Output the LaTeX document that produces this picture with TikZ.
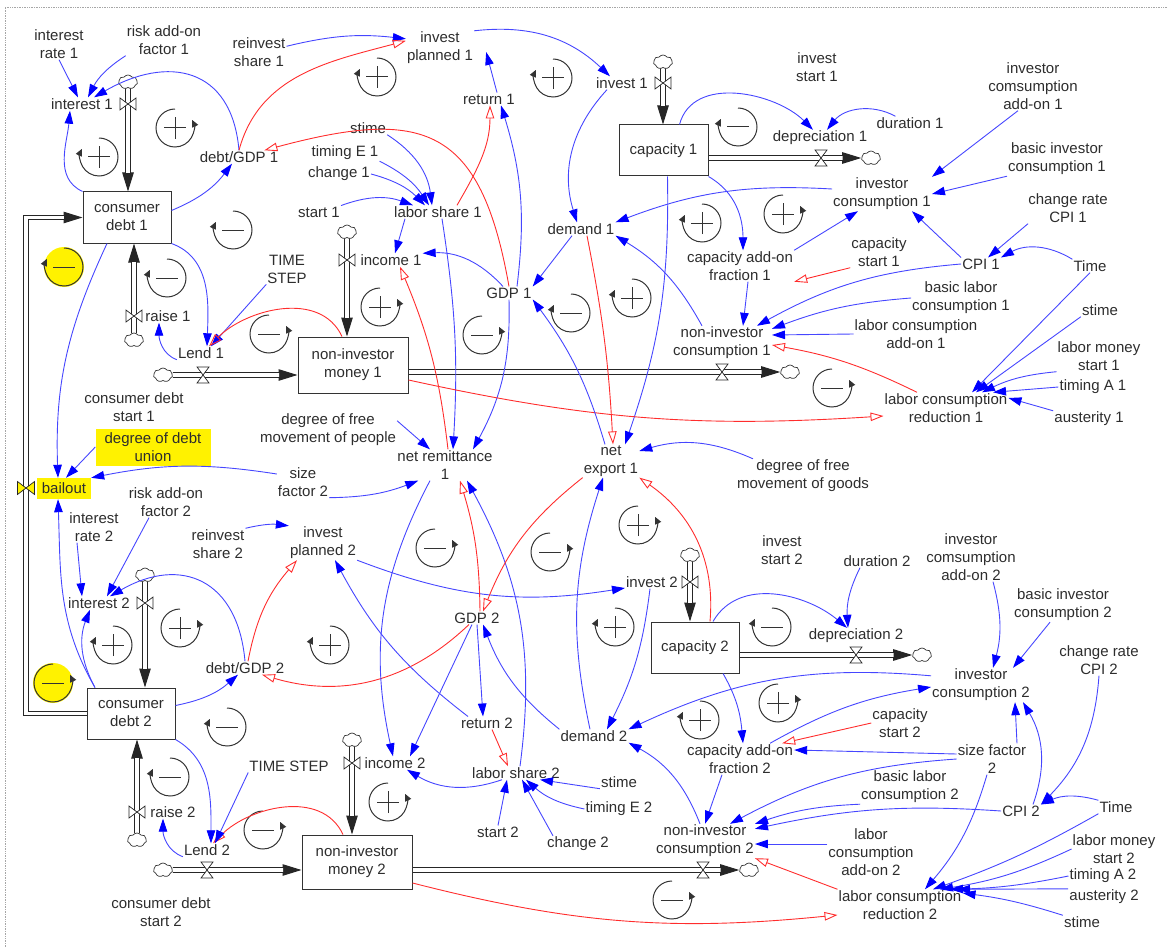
\documentclass[tikz,border=0pt]{standalone}
\usepackage{fontspec}
\setmainfont{Liberation Sans}
\usetikzlibrary{arrows.meta,shapes.symbols}
\pgfdeclarelayer{bg}
\pgfsetlayers{bg,main}
\definecolor{lnkblue}{RGB}{70,70,255}
\definecolor{tipblue}{RGB}{0,0,255}
\definecolor{lnkred}{RGB}{255,45,45}
\definecolor{txtc}{RGB}{45,45,45}
\newcommand\fsz{\fontsize{15}{18}\selectfont}
\newcommand\flowpipe[1]{\draw[pipehead] #1; \draw[pipebody] #1;}
\newcommand\lmark[3]{\pic at (#1) {#2}; \pic at (#1) {#3};}
\tikzset{
 lbl/.style={align=center, inner sep=1pt, text=txtc, font=\fsz},
 stock/.style={lbl, draw=black!80, line width=1pt, fill=white, inner sep=2pt},
 ybox/.style={lbl, fill=yellow, inner sep=0pt},
 cloudn/.style={cloud, cloud puffs=7, cloud puff arc=110, aspect=1.35, draw=black!80, fill=white, line width=0.7pt, minimum width=19pt, minimum height=14pt, inner sep=0pt},
 plink/.style={draw=lnkblue, line width=0.9pt, -{Triangle[length=13pt,width=8.5pt,color=tipblue]}},
 nlink/.style={draw=lnkred, line width=0.9pt, -{Triangle[open,length=13pt,width=8.5pt]}},
 pipehead/.style={draw=black!85, line width=1pt, -{Triangle[length=19pt,width=11.5pt]}},
 pipebody/.style={draw=black!85, line width=1.1pt, double=white, double distance=3.6pt, shorten >=18.5pt},
 loopline/.style={draw=black!80, line width=1pt},
 pics/lpR/.style={code={\draw[loopline,-{Triangle[length=7pt,width=6.5pt]}] (0,19) arc[start angle=90,end angle=385,radius=19];}},
 pics/lpL/.style={code={\draw[loopline,-{Triangle[length=7pt,width=6.5pt]}] (0,19) arc[start angle=90,end angle=-205,radius=19];}},
 pics/lsplus/.style={code={\draw[loopline] (-11,0)--(11,0) (0,-11)--(0,11);}},
 pics/lsminus/.style={code={\draw[loopline] (-11,0)--(11,0);}},
 pics/valveV/.style={code={\draw[draw=black!85,fill=white,line width=0.7pt] (-8,6)--(-8,-6)--(8,6)--(8,-6)--cycle;}},
 pics/valveH/.style={code={\draw[draw=black!85,fill=white,line width=0.7pt] (-6,8)--(6,8)--(-6,-8)--(6,-8)--cycle;}},
 pics/valveY/.style={code={\draw[draw=black!85,fill=yellow,line width=0.7pt] (-8.5,6.5)--(-8.5,-6.5)--(8.5,6.5)--(8.5,-6.5)--cycle;}},
}
\begin{document}
\begin{tikzpicture}[x=1pt,y=1pt]
\useasboundingbox (0,0) rectangle (1168,-947);
\draw[gray!70, line width=0.7pt, densely dotted] (5,-947) -- (5,-7) -- (1168,-7);

% ---------- stocks ----------
\node[stock, minimum width=88pt, minimum height=51pt] (cd1) at (127,-217.5) {consumer\\debt 1};
\node[stock, minimum width=88pt, minimum height=51pt] (cd2) at (131,-713.5) {consumer\\debt 2};
\node[stock, minimum width=110pt, minimum height=56pt] (nim1) at (353,-365) {non-investor\\money 1};
\node[stock, minimum width=110pt, minimum height=54pt] (nim2) at (357,-862) {non-investor\\money 2};
\node[stock, minimum width=89pt, minimum height=51pt] (cap1) at (663.5,-150.5) {capacity 1};
\node[stock, minimum width=88pt, minimum height=51pt] (cap2) at (695,-647.5) {capacity 2};

% ---------- clouds ----------
\node[cloudn] (c_int1) at (128,-82) {};
\node[cloudn] (c_raise1) at (134,-340) {};
\node[cloudn] (c_lend1) at (163,-375) {};
\node[cloudn] (c_inc1) at (347,-232) {};
\node[cloudn] (c_nic1) at (790,-372) {};
\node[cloudn] (c_inv1) at (663,-62) {};
\node[cloudn] (c_dep1) at (871,-158) {};
\node[cloudn] (c_int2) at (145,-575) {};
\node[cloudn] (c_raise2) at (137,-840) {};
\node[cloudn] (c_lend2) at (163,-870) {};
\node[cloudn] (c_inc2) at (352,-740) {};
\node[cloudn] (c_nic2) at (749,-870) {};
\node[cloudn] (c_inv2) at (690,-555) {};
\node[cloudn] (c_dep2) at (922,-655) {};
\coordinate (v_bail) at (26,-488);

% ---------- pipes ----------
\begin{pgfonlayer}{bg}
\flowpipe{(c_int1) -- (c_int1 |- cd1.north)}
\flowpipe{(c_raise1) -- (c_raise1 |- cd1.south)}
\flowpipe{(c_lend1) -- (c_lend1 -| nim1.west)}
\flowpipe{(c_inc1) -- (c_inc1 |- nim1.north)}
\flowpipe{(nim1.east |- c_nic1) -- (c_nic1.west)}
\flowpipe{(c_inv1) -- (c_inv1 |- cap1.north)}
\flowpipe{(cap1.east |- c_dep1) -- (c_dep1.west)}
\flowpipe{(c_int2) -- (c_int2 |- cd2.north)}
\flowpipe{(c_raise2) -- (c_raise2 |- cd2.south)}
\flowpipe{(c_lend2) -- (c_lend2 -| nim2.west)}
\flowpipe{(c_inc2) -- (c_inc2 |- nim2.north)}
\flowpipe{(nim2.east |- c_nic2) -- (c_nic2.west)}
\flowpipe{(c_inv2) -- (c_inv2 |- cap2.north)}
\flowpipe{(cap2.east |- c_dep2) -- (c_dep2.west)}
\flowpipe{(cd2.west) -| (v_bail) |- (cd1.west)}
\end{pgfonlayer}

% ---------- valves ----------
\pic at (128,-104) {valveV};
\pic at (134,-316) {valveV};
\pic at (203,-375) {valveH};
\pic at (347,-260) {valveV};
\pic at (722,-372) {valveH};
\pic at (663,-83) {valveV};
\pic at (821,-158) {valveH};
\pic at (145,-603) {valveV};
\pic at (137,-812) {valveV};
\pic at (207,-870) {valveH};
\pic at (352,-763) {valveV};
\pic at (703,-870) {valveH};
\pic at (690,-582) {valveV};
\pic at (856,-655) {valveH};
\pic at (v_bail) {valveY};

% ---------- yellow boxes ----------
\node[ybox, minimum width=115pt, minimum height=37pt] (ddu) at (153,-447) {degree of debt\\union};
\node[ybox, minimum width=54pt, minimum height=21pt] (bail) at (64,-488.5) {bailout};

% ---------- labels, top ----------
\node[lbl] (ir1) at (59,-44) {interest\\rate 1};
\node[lbl] (risk1) at (164,-40) {risk add-on\\factor 1};
\node[lbl] (int1) at (82,-104) {interest 1};
\node[lbl] (reinv1) at (259,-52) {reinvest\\share 1};
\node[lbl] (dg1) at (239,-157) {debt/GDP 1};
\node[lbl] (ip1) at (440,-48) {invest\\planned 1};
\node[lbl] (ret1) at (489,-99) {return 1};
\node[lbl] (inv1) at (622,-83) {invest 1};
\node[lbl] (dep1) at (820,-138) {depreciation 1};
\node[lbl] (invst1) at (817,-67) {invest\\start 1};
\node[lbl] (dur1) at (910,-123) {duration 1};
\node[lbl] (icao1) at (1033,-86) {investor\\comsumption\\add-on 1};
\node[lbl] (bic1) at (1057,-159) {basic investor\\consumption 1};
\node[lbl] (ic1) at (882,-194) {investor\\consumption 1};
\node[lbl] (crcpi1) at (1068,-208) {change rate\\CPI 1};
\node[lbl] (cpi1) at (981,-264) {CPI 1};
\node[lbl] (time1) at (1090,-266) {Time};
\node[lbl] (capst1) at (879,-252) {capacity\\start 1};
\node[lbl] (blc1) at (961,-298) {basic labor\\consumption 1};
\node[lbl] (stimeR1) at (1100,-310) {stime};
\node[lbl] (lcao1) at (916,-334) {labor consumption\\add-on 1};
\node[lbl] (lms1) at (1099,-356) {labor money\\start 1};
\node[lbl] (tA1) at (1093,-387) {timing A 1};
\node[lbl] (lcr1) at (946,-408) {labor consumption\\reduction 1};
\node[lbl] (aus1) at (1089,-419) {austerity 1};
\node[lbl] (caf1) at (740,-266) {capacity add-on\\fraction 1};
\node[lbl] (nic1) at (722,-343) {non-investor\\consumption 1};
\node[lbl] (dem1) at (581,-229) {demand 1};
\node[lbl] (gdp1) at (509,-293) {GDP 1};
\node[lbl] (ls1) at (438,-212) {labor share 1};
\node[lbl] (inc1) at (391,-260) {income 1};
\node[lbl] (st1) at (319,-212) {start 1};
\node[lbl] (stime1) at (368,-128) {stime};
\node[lbl] (tE1) at (345,-153) {timing E 1};
\node[lbl] (ch1) at (339,-174) {change 1};
\node[lbl] (ts1) at (287,-269) {TIME\\STEP};
\node[lbl] (lend1) at (201,-353) {Lend 1};
\node[lbl] (raise1) at (168,-316) {raise 1};
\node[lbl] (cds1) at (134,-407) {consumer debt\\start 1};
\node[lbl] (dfmp) at (328,-430) {degree of free\\movement of people};
\node[lbl] (nr1) at (445,-465) {net remittance\\1};
\node[lbl] (ne1) at (611,-461) {net\\export 1};
\node[lbl] (dfmg) at (803,-476) {degree of free\\movement of goods};
\node[lbl] (sf2a) at (303,-482) {size\\factor 2};

% ---------- labels, bottom ----------
\node[lbl] (risk2) at (166,-502) {risk add-on\\factor 2};
\node[lbl] (ir2) at (94,-527) {interest\\rate 2};
\node[lbl] (reinv2) at (218,-544) {reinvest\\share 2};
\node[lbl] (ip2) at (323,-543) {invest\\planned 2};
\node[lbl] (int2) at (99,-603) {interest 2};
\node[lbl] (dg2) at (245,-668) {debt/GDP 2};
\node[lbl] (raise2) at (173,-812) {raise 2};
\node[lbl] (lend2) at (207,-850) {Lend 2};
\node[lbl] (ts2) at (289,-766) {TIME STEP};
\node[lbl] (cds2) at (161,-912) {consumer debt\\start 2};
\node[lbl] (inc2) at (395,-763) {income 2};
\node[lbl] (gdp2) at (477,-618) {GDP 2};
\node[lbl] (ret2) at (487,-723) {return 2};
\node[lbl] (ls2) at (516,-773) {labor share 2};
\node[lbl] (dem2) at (594,-736) {demand 2};
\node[lbl] (st2) at (498,-832) {start 2};
\node[lbl] (ch2) at (578,-844) {change 2};
\node[lbl] (stime2) at (619,-782) {stime};
\node[lbl] (tE2) at (619,-809) {timing E 2};
\node[lbl] (inv2) at (652,-582) {invest 2};
\node[lbl] (dep2) at (856,-636) {depreciation 2};
\node[lbl] (invst2) at (782,-550) {invest\\start 2};
\node[lbl] (dur2) at (877,-561) {duration 2};
\node[lbl] (icao2) at (971,-557) {investor\\comsumption\\add-on 2};
\node[lbl] (bic2) at (1063,-605) {basic investor\\consumption 2};
\node[lbl] (crcpi2) at (1099,-660) {change rate\\CPI 2};
\node[lbl] (ic2) at (981,-685) {investor\\consumption 2};
\node[lbl] (capst2) at (900,-723) {capacity\\start 2};
\node[lbl] (sf2b) at (992,-759) {size factor\\2};
\node[lbl] (caf2) at (740,-759) {capacity add-on\\fraction 2};
\node[lbl] (blc2) at (910,-787) {basic labor\\consumption 2};
\node[lbl] (cpi2) at (1021,-811) {CPI 2};
\node[lbl] (time2) at (1116,-807) {Time};
\node[lbl] (lcao2) at (871,-852) {labor\\consumption\\add-on 2};
\node[lbl] (lms2) at (1114,-849) {labor money\\start 2};
\node[lbl] (tA2) at (1103,-876) {timing A 2};
\node[lbl] (aus2) at (1104,-897) {austerity 2};
\node[lbl] (stimeR2) at (1082,-922) {stime};
\node[lbl] (lcr2) at (900,-905) {labor consumption\\reduction 2};
\node[lbl] (nic2) at (705,-841) {non-investor\\consumption 2};

% ---------- loop markers ----------
\fill[yellow] (64,-267) circle[radius=20];
\fill[yellow] (53,-683) circle[radius=20];
\lmark{175,-128}{lpR}{lsplus}
\lmark{99,-157}{lpL}{lsplus}
\lmark{233,-230}{lpL}{lsminus}
\lmark{64,-267}{lpL}{lsminus}
\lmark{167,-278}{lpL}{lsminus}
\lmark{377,-77}{lpL}{lsplus}
\lmark{553,-78}{lpL}{lsplus}
\lmark{738,-127}{lpL}{lsminus}
\lmark{702,-223}{lpL}{lsplus}
\lmark{783,-214}{lpR}{lsplus}
\lmark{632,-298}{lpL}{lsplus}
\lmark{571,-313}{lpL}{lsminus}
\lmark{380,-307}{lpR}{lsplus}
\lmark{482,-335}{lpR}{lsminus}
\lmark{269,-334}{lpR}{lsminus}
\lmark{832,-388}{lpR}{lsminus}
\lmark{435,-548}{lpR}{lsminus}
\lmark{550,-552}{lpR}{lsminus}
\lmark{638,-525}{lpR}{lsplus}
\lmark{615,-627}{lpL}{lsplus}
\lmark{772,-627}{lpL}{lsminus}
\lmark{778,-703}{lpR}{lsplus}
\lmark{700,-720}{lpL}{lsplus}
\lmark{672,-900}{lpR}{lsminus}
\lmark{113,-645}{lpL}{lsplus}
\lmark{180,-628}{lpR}{lsplus}
\lmark{330,-645}{lpL}{lsplus}
\lmark{227,-727}{lpL}{lsminus}
\lmark{170,-777}{lpL}{lsminus}
\lmark{263,-830}{lpR}{lsminus}
\lmark{53,-683}{lpR}{lsminus}
\lmark{388,-802}{lpR}{lsplus}

% ---------- links, top ----------
\draw[plink] (ir1.south) -- ([xshift=-4pt]int1.north);
\draw[plink] (risk1.south west) to[bend right=15] ([xshift=6pt]int1.north);
\draw[plink] (dg1.north) to[out=95,in=30,looseness=1.4] ([xshift=-20pt]int1.north east);
\draw[plink] (cd1.north west) to[out=155,in=-95] ([xshift=-12pt]int1.south);
\draw[plink] ([yshift=7pt]cd1.east) to[bend right=15] ([xshift=-7pt]dg1.south);
\draw[plink] ([yshift=-10pt]reinv1.north east) to[bend left=10] ([yshift=-8pt]ip1.north west);
\draw[nlink] (dg1.north) to[out=75,in=195] ([yshift=-10pt]ip1.north west);
\draw[nlink] (gdp1.north) to[out=100,in=15,looseness=1.5] ([xshift=-15pt]dg1.north east);
\draw[plink] (cd1.south east) to[out=-20,in=88] ([xshift=6pt]lend1.north);
\draw[plink] (ts1.south west) -- ([xshift=10pt]lend1.north);
\draw[nlink] ([xshift=-11pt]nim1.north) to[out=115,in=45] ([xshift=8pt]lend1.north);
\draw[plink] (lend1.south west) to[out=160,in=-90] ([xshift=-9pt]raise1.south);
\draw[plink] (stime1.south east) to[bend left=25] ([xshift=-6pt]ls1.north);
\draw[plink] (tE1.south east) to[bend left=15] ([xshift=-9pt]ls1.north);
\draw[plink] (ch1.east) to[bend left=15] ([xshift=-13pt]ls1.north);
\draw[plink] (st1.north east) to[bend left=20] ([xshift=20pt]ls1.north west);
\draw[plink] ([xshift=12pt]ls1.south west) -- ([xshift=4pt]inc1.north);
\draw[plink] ([xshift=-6pt]gdp1.north) to[bend right=25] (inc1.north east);
\draw[plink] ([xshift=4pt]ls1.south) to[bend left=6] ([xshift=8pt]nr1.north);
\draw[plink] (gdp1.south) to[bend left=15] ([xshift=28pt]nr1.north);
\draw[plink] ([xshift=8pt]gdp1.north) to[bend right=12] ([xshift=12pt]ret1.south);
\draw[nlink] ([xshift=19pt]ls1.north) to[out=60,in=-90] ([xshift=1pt]ret1.south);
\draw[plink] ([xshift=8pt]ret1.north) -- ([xshift=12pt,yshift=-4pt]ip1.east);
\draw[plink] (ip1.north east) to[bend left=25] ([xshift=-12pt]inv1.north);
\draw[plink] ([xshift=-15pt]inv1.south) to[bend right=30] ([xshift=-4pt]dem1.north);
\draw[nlink] ([xshift=6pt]dem1.south) to[bend left=4] ([xshift=2pt]ne1.north);
\draw[plink] ([xshift=-9pt]dem1.south) -- (gdp1.north east);
\draw[plink] ([yshift=5pt]ic1.west) to[bend right=12] (dem1.north east);
\draw[plink] ([xshift=-20pt]nic1.north) to[bend right=15] (dem1.south east);
\draw[plink] ([xshift=4pt]cap1.south) to[bend left=10] ([xshift=14pt]ne1.north);
\draw[plink] (cap1.south east) to[out=-30,in=90] ([xshift=3pt]caf1.north);
\draw[plink] ([xshift=8pt]caf1.south) -- ([xshift=21pt]nic1.north);
\draw[plink] (caf1.north east) -- ([xshift=-24pt]ic1.south);
\draw[plink] ([xshift=16pt]cap1.north) to[out=75,in=135] ([xshift=-7pt]dep1.north);
\draw[plink] ([xshift=20pt]dur1.north west) to[bend right=40] ([xshift=7pt]dep1.north);
\draw[plink] ([xshift=-15pt]icao1.south) -- (ic1.north east);
\draw[plink] (bic1.south west) -- (ic1.east);
\draw[plink] ([xshift=-40pt]crcpi1.south) -- ([xshift=7pt]cpi1.north);
\draw[plink] (time1.north west) to[bend right=30] (cpi1.north east);
\draw[plink] (cpi1.north west) -- ([xshift=30pt]ic1.south);
\draw[nlink] (capst1.south west) -- (caf1.south east);
\draw[plink] (cpi1.west) to[bend right=12] ([xshift=-15pt]nic1.north east);
\draw[plink] (blc1.west) to[bend right=8] ([yshift=-3pt]nic1.north east);
\draw[plink] (lcao1.west) -- ([yshift=8pt]nic1.east);
\draw[nlink] ([xshift=-29pt]lcr1.north) to[bend right=8] ([yshift=-2pt]nic1.east);
\draw[plink] (time1.south) -- ([xshift=26pt]lcr1.north);
\draw[plink] (stimeR1.south west) -- ([xshift=30pt]lcr1.north);
\draw[plink] (lms1.south west) to[bend right=10] ([xshift=36pt]lcr1.north);
\draw[plink] (tA1.west) -- ([xshift=47pt]lcr1.north);
\draw[plink] (aus1.north west) -- ([yshift=10pt]lcr1.east);
\draw[nlink] ([yshift=-15pt]nim1.east) to[bend right=8] ([yshift=-8pt]lcr1.west);
\draw[plink] ([xshift=-6pt]ne1.north) to[bend right=10] (gdp1.south east);
\draw[plink] ([yshift=-8pt]dfmp.north east) -- ([xshift=-15pt]nr1.north);
\draw[plink] (sf2a.south east) to[bend right=10] ([xshift=22pt]nr1.south west);
\draw[plink] ([yshift=8pt]sf2a.west) to[bend right=10] (bail.north east);
\draw[plink] (ddu.west) -- ([xshift=2pt]bail.north);
\draw[plink] ([xshift=-20pt]cd1.south) to[out=-115,in=92] ([xshift=-6pt]bail.north);
\draw[plink] ([xshift=-36pt]cd2.north) to[out=120,in=-88] ([xshift=-6pt]bail.south);
\draw[nlink] ([xshift=3pt]nr1.north) to[bend right=8] ([xshift=9pt]inc1.south);

% ---------- links, bottom ----------
\draw[plink] ([xshift=-17pt]ir2.south) -- ([xshift=-17pt]int2.north);
\draw[plink] ([xshift=-17pt]risk2.south) -- ([xshift=8pt]int2.north);
\draw[plink] (dg2.north) to[out=95,in=30,looseness=1.4] ([xshift=11pt]int2.north);
\draw[plink] ([xshift=-36pt]cd2.north) to[bend left=25] ([xshift=-9pt]int2.south);
\draw[plink] ([yshift=8pt]cd2.east) to[bend right=15] ([xshift=-7pt]dg2.south);
\draw[nlink] ([xshift=-8pt]gdp2.south) to[bend left=30] ([xshift=17pt]dg2.south);
\draw[nlink] ([xshift=3pt]dg2.north) to[bend left=15] ([xshift=-26pt]ip2.south);
\draw[plink] (reinv2.north east) to[bend left=10] (ip2.north west);
\draw[plink] ([xshift=-19pt]ret2.north) to[bend left=12] ([xshift=12pt]ip2.south);
\draw[plink] (ip2.south east) to[bend right=15] ([yshift=-6pt]inv2.west);
\draw[plink] (gdp2.south) -- ([xshift=-4pt]ret2.north);
\draw[plink] ([xshift=-5pt]gdp2.south) -- ([xshift=15pt]inc2.north);
\draw[plink] (dem2.north west) to[bend left=15] ([xshift=6pt]gdp2.south);
\draw[plink] ([xshift=-14pt]ls2.south) to[bend left=25] ([xshift=12pt]inc2.south);
\draw[plink] (st2.north) -- ([xshift=-9pt]ls2.south);
\draw[plink] ([xshift=-25pt]ch2.north) -- ([xshift=6pt]ls2.south);
\draw[plink] (tE2.west) to[bend left=15] ([xshift=10pt]ls2.south);
\draw[plink] (stime2.south west) -- ([xshift=24pt]ls2.south);
\draw[nlink] ([xshift=5pt]ret2.south) -- ([xshift=-8pt]ls2.north);
\draw[plink] ([xshift=4pt]ls2.north) to[bend right=18] ([xshift=22pt]nr1.south);
\draw[nlink] ([xshift=3pt]gdp2.north) to[bend right=8] ([xshift=15pt]nr1.south);
\draw[plink] ([xshift=-15pt]nr1.south) to[bend right=20] ([xshift=-2pt]inc2.north);
\draw[nlink] (ne1.south west) to[bend right=15] ([xshift=6pt]gdp2.north);
\draw[plink] ([xshift=-4pt]dem2.north) to[bend left=15] ([xshift=-8pt]ne1.south);
\draw[nlink] ([xshift=15pt]cap2.north) to[out=85,in=-35] (ne1.south east);
\draw[plink] ([xshift=-50pt]dfmg.north) to[bend right=20] ([yshift=10pt]ne1.east);
\draw[plink] ([xshift=-2pt]inv2.south) to[bend left=10] ([xshift=13pt]dem2.north);
\draw[plink] ([yshift=-8pt]ic2.north west) to[bend right=15] (dem2.north east);
\draw[plink] ([xshift=30pt]caf2.north) to[bend left=10] ([yshift=-2pt]ic2.west);
\draw[plink] ([xshift=28pt]cap2.south) to[out=-60,in=95] ([xshift=3pt]caf2.north);
\draw[plink] ([xshift=-18pt]caf2.south) -- (nic2.north);
\draw[plink] ([xshift=-5pt]nic2.north) to[bend right=20] (dem2.south east);
\draw[plink] ([xshift=18pt]cap2.north) to[out=60,in=140] ([xshift=-9pt]dep2.north);
\draw[plink] ([xshift=-17pt]dur2.south) to[bend right=15] ([xshift=-8pt]dep2.north);
\draw[plink] ([xshift=22pt]icao2.south) to[bend left=15] ([xshift=12pt]ic2.north);
\draw[plink] ([xshift=-13pt]bic2.south) -- ([xshift=32pt]ic2.north);
\draw[plink] (crcpi2.south) to[bend left=20] (cpi2.north east);
\draw[plink] (time2.north west) to[bend right=20] (cpi2.north east);
\draw[plink] ([xshift=12pt]cpi2.north) to[bend right=25] ([xshift=42pt]ic2.south);
\draw[plink] ([xshift=25pt]sf2b.north) -- ([xshift=34pt]ic2.south);
\draw[plink] ([yshift=5pt]sf2b.west) -- ([yshift=9pt]caf2.east);
\draw[plink] (sf2b.west) to[bend right=12] ([xshift=25pt]nic2.north);
\draw[plink] ([xshift=-5pt]sf2b.south) to[bend left=12] ([xshift=25pt]lcr2.north);
\draw[nlink] (capst2.west) -- ([xshift=-12pt]caf2.north east);
\draw[plink] (blc2.south west) to[bend right=8] (nic2.north east);
\draw[plink] (cpi2.west) to[bend right=8] ([yshift=-5pt]nic2.north east);
\draw[plink] ([yshift=8pt]lcao2.west) -- ([yshift=-3pt]nic2.east);
\draw[nlink] (lcr2.north west) -- (nic2.south east);
\draw[nlink] ([yshift=-21pt]nim2.east) to[bend right=10] ([yshift=-10pt]lcr2.west);
\draw[nlink] ([xshift=-14pt]nim2.north) to[out=115,in=45] ([xshift=6pt]lend2.north);
\draw[plink] (cd2.south east) to[out=-30,in=90] ([xshift=4pt]lend2.north);
\draw[plink] (ts2.south west) -- ([xshift=8pt]lend2.north);
\draw[plink] (lend2.south west) to[out=160,in=-90] ([xshift=-10pt]raise2.south);
\draw[plink] (time2.south west) to[bend left=5] ([xshift=33pt]lcr2.north);
\draw[plink] (lms2.west) to[bend left=8] ([xshift=40pt]lcr2.north);
\draw[plink] (tA2.west) to[bend left=5] ([xshift=50pt]lcr2.north);
\draw[plink] (aus2.north west) -- ([xshift=57pt]lcr2.north);
\draw[plink] (stimeR2.north west) to[bend right=5] ([yshift=12pt]lcr2.east);
\end{tikzpicture}
\end{document}
